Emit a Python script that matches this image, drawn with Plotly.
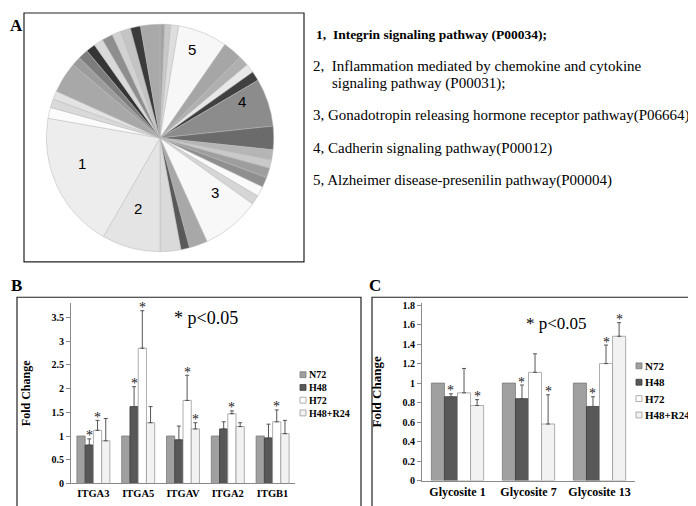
import math
import plotly.graph_objects as go

W, H = 696, 506

# ---------------- Panel A : pie (slice sizes in degrees, clockwise from 12 o'clock)
pie_values = [2.5, 3.0, 4.0, 25.3, 9.9, 5.3, 4.6, 4.9, 24.5, 12.0, 5.3, 4.1, 5.0, 5.2,
              5.1, 4.8, 30.1, 9.4, 4.4, 10.6, 29.8, 70.2, 5.6, 4.4, 4.3, 15.8, 4.7,
              5.2, 4.8, 4.9, 5.5, 4.5, 5.2, 5.2, 9.9]
pie_text = ["", "", "", "5", "", "", "", "", "4", "", "", "", "", "",
            "", "", "3", "", "", "", "2", "1", "", "", "", "", "",
            "", "", "", "", "", "", "", ""]
pie_colors = ["#a3a3a3", "#c8c8c8", "#dedede", "#f7f7f7", "#a6a6a6", "#b0b0b0", "#e8e8e8",
              "#404040", "#8c8c8c", "#6b6b6b", "#b5b5b5", "#c9c9c9", "#9e9e9e", "#8f8f8f",
              "#fafafa", "#d6d6d6", "#f8f8f8", "#a8a8a8", "#595959", "#dadada", "#e4e4e4",
              "#ededed", "#fbfbfb", "#d9d9d9", "#e3e3e3", "#a8a8a8", "#9c9c9c", "#7d7d7d",
              "#353535", "#d9d9d9", "#8e8e8e", "#d2d2d2", "#c4c4c4", "#3b3b3b", "#a9a9a9"]

pathways = [
    "<b>1,\u00a0\u00a0Integrin signaling pathway (P00034);</b>",
    "2,\u00a0\u00a0Inflammation mediated by chemokine and cytokine",
    "signaling pathway (P00031);",
    "3, Gonadotropin releasing hormone receptor pathway(P06664);",
    "4, Cadherin signaling pathway(P00012)",
    "5, Alzheimer disease-presenilin pathway(P00004)",
]

# ---------------- Panel B
genes = ["ITGA3", "ITGA5", "ITGAV", "ITGA2", "ITGB1"]
series = ["N72", "H48", "H72", "H48+R24"]
b_N72 = [1.0, 1.0, 1.0, 1.0, 1.0]
b_H48 = [0.81, 1.62, 0.92, 1.15, 0.96]
b_H72 = [1.12, 2.85, 1.75, 1.47, 1.30]
b_R24 = [0.90, 1.28, 1.15, 1.20, 1.05]
b_H48_err = [0.13, 0.42, 0.29, 0.15, 0.29]
b_H72_err = [0.21, 0.79, 0.53, 0.06, 0.25]
b_R24_err = [0.47, 0.34, 0.13, 0.08, 0.28]
b_H48_sig = [1, 1, 0, 0, 0]
b_H72_sig = [1, 1, 1, 1, 1]
b_R24_sig = [0, 0, 1, 0, 0]
b_ticks = [0, 0.5, 1, 1.5, 2, 2.5, 3, 3.5]
b_ticklabels = ["0", "0.5", "1", "1.5", "2", "2.5", "3", "3.5"]

# ---------------- Panel C
sites = ["Glycosite 1", "Glycosite 7", "Glycosite 13"]
c_N72 = [1.0, 1.0, 1.0]
c_H48 = [0.86, 0.84, 0.76]
c_H72 = [0.90, 1.11, 1.20]
c_R24 = [0.77, 0.58, 1.48]
c_H48_err = [0.03, 0.14, 0.10]
c_H72_err = [0.25, 0.19, 0.19]
c_R24_err = [0.06, 0.30, 0.14]
c_H48_sig = [1, 1, 1]
c_H72_sig = [0, 0, 1]
c_R24_sig = [1, 1, 1]
c_ticks = [0, 0.2, 0.4, 0.6, 0.8, 1.0, 1.2, 1.4, 1.6, 1.8]
c_ticklabels = ["0", "0.2", "0.4", "0.6", "0.8", "1", "1.2", "1.4", "1.6", "1.8"]

fills = {"N72": "#a0a0a0", "H48": "#585858", "H72": "#ffffff", "H48+R24": "#f2f2f2"}
edges = {"N72": "#7a7a7a", "H48": "#3c3c3c", "H72": "#9a9a9a", "H48+R24": "#9a9a9a"}

SERIF = "Liberation Serif"


def px(x):
    return x / W


def py(y):
    return 1 - y / H


fig = go.Figure()
ann = []
shapes = []

# pie
PIE_CX, PIE_CY, PIE_R = 152, 128.5, 116
fig.add_trace(go.Pie(
    values=pie_values, textinfo="none", sort=False, direction="clockwise", rotation=0,
    marker=dict(colors=pie_colors, line=dict(color="#b8b8b8", width=0.5)),
    domain=dict(x=[px(PIE_CX - PIE_R), px(PIE_CX + PIE_R)],
                y=[py(PIE_CY + PIE_R), py(PIE_CY - PIE_R)]),
    showlegend=False, hoverinfo="skip"))
# slice numbers at the mid-angle of their slices
total = sum(pie_values)
cum = 0.0
for v, t in zip(pie_values, pie_text):
    mid = (cum + v / 2) / total * 2 * math.pi
    cum += v
    if t:
        lx = PIE_CX + 0.74 * PIE_R * math.sin(mid)
        ly = PIE_CY - 0.74 * PIE_R * math.cos(mid)
        ann.append(dict(text=t, x=px(lx), y=py(ly), xref="paper", yref="paper",
                        xanchor="center", yanchor="bottom", showarrow=False,
                        font=dict(family="Liberation Sans", size=15, color="black")))

BW = 0.184


def add_panel(cats, vals, errs, sigs, xa, ya):
    for j, name in enumerate(series):
        off = -2 * BW + j * BW
        xs = list(range(len(cats)))
        err = errs[j]
        kw = {}
        if err is not None:
            kw["error_y"] = dict(type="data", array=err, arrayminus=[0] * len(err),
                                 symmetric=False, color="#555555", thickness=1, width=2)
        fig.add_trace(go.Bar(
            x=xs, y=vals[j], name=name, width=BW, offset=off,
            marker=dict(color=fills[name], line=dict(color=edges[name], width=0.8)),
            xaxis=xa, yaxis=ya, showlegend=False, hoverinfo="skip", **kw))
        if sigs[j] is None:
            continue
        for i in range(len(cats)):
            if sigs[j][i]:
                ann.append(dict(text="*", x=i + off + BW / 2, y=vals[j][i] + errs[j][i],
                                xref=xa, yref=ya, xanchor="center", yanchor="middle",
                                yshift=3, showarrow=False,
                                font=dict(family=SERIF, size=14, color="#222222")))


add_panel(genes, [b_N72, b_H48, b_H72, b_R24], [None, b_H48_err, b_H72_err, b_R24_err],
          [None, b_H48_sig, b_H72_sig, b_R24_sig], "x", "y")
add_panel(sites, [c_N72, c_H48, c_H72, c_R24], [None, c_H48_err, c_H72_err, c_R24_err],
          [None, c_H48_sig, c_H72_sig, c_R24_sig], "x2", "y2")

axis_common = dict(showgrid=False, zeroline=False, showline=True, linecolor="#8a8a8a",
                   linewidth=1)

fig.update_layout(
    width=W, height=H, margin=dict(l=0, r=0, t=0, b=0),
    paper_bgcolor="white", plot_bgcolor="rgba(0,0,0,0)", barmode="overlay",
    font=dict(family=SERIF, color="black"), showlegend=False,
    xaxis=dict(domain=[px(63), px(287)], range=[-0.5, len(genes) - 0.5], anchor="y",
               tickvals=list(range(len(genes))), ticktext=genes, ticks="",
               tickfont=dict(family=SERIF, size=10.5, weight="bold", color="black"),
               **axis_common),
    yaxis=dict(domain=[py(481), py(297)], range=[0, 3.8], anchor="x",
               tickvals=b_ticks, ticktext=b_ticklabels, ticks="outside", ticklen=4,
               tickcolor="#8a8a8a",
               tickfont=dict(family=SERIF, size=10, weight="bold", color="black"),
               title=dict(text="Fold Change", standoff=18,
                          font=dict(family=SERIF, size=12, weight="bold", color="black")),
               **axis_common),
    xaxis2=dict(domain=[px(414), px(627)], range=[-0.5, len(sites) - 0.5], anchor="y2",
                tickvals=list(range(len(sites))), ticktext=sites, ticks="",
                tickfont=dict(family=SERIF, size=12, weight="bold", color="black"),
                **axis_common),
    yaxis2=dict(domain=[py(478), py(297)], range=[0, 1.82], anchor="x2",
                tickvals=c_ticks, ticktext=c_ticklabels, ticks="outside", ticklen=4,
                tickcolor="#8a8a8a",
                tickfont=dict(family=SERIF, size=10, weight="bold", color="black"),
                title=dict(text="Fold Change", standoff=17,
                           font=dict(family=SERIF, size=13, weight="bold", color="black")),
                **axis_common),
)

# frames
for (x0, y0, x1, y1) in [(16, 1, 296, 255), (9, 291, 353, 505), (364, 291, 694, 505)]:
    shapes.append(dict(type="rect", xref="paper", yref="paper",
                       x0=px(x0), x1=px(x1), y0=py(y1), y1=py(y0),
                       line=dict(color="#222222", width=1.2)))

# legend B : one multi-line text block, swatches on its rows
LB_X, LB_Y, LB_FS = 292, 389.5, 10
lb_step = LB_FS * 1.3
ann.append(dict(text="<br>".join("<b>" + s + "</b>" for s in series),
                x=px(LB_X + 7), y=py(LB_Y), xref="paper", yref="paper",
                xanchor="left", yanchor="middle", align="left", showarrow=False,
                font=dict(family=SERIF, size=LB_FS, color="black")))
for j, name in enumerate(series):
    yc = LB_Y + (j - 1.5) * lb_step
    shapes.append(dict(type="rect", xref="paper", yref="paper",
                       x0=px(LB_X), x1=px(LB_X + 6), y0=py(yc + 3), y1=py(yc - 3),
                       fillcolor=fills[name], line=dict(color=edges[name], width=0.8)))
# legend C
for j, name in enumerate(series):
    yc = 361 + j * 16.7
    shapes.append(dict(type="rect", xref="paper", yref="paper",
                       x0=px(628), x1=px(634), y0=py(yc + 3), y1=py(yc - 3),
                       fillcolor=fills[name], line=dict(color=edges[name], width=0.8)))
    ann.append(dict(text="<b>" + name + "</b>", x=px(635), y=py(yc),
                    xref="paper", yref="paper", xanchor="left", yanchor="middle",
                    showarrow=False, font=dict(family=SERIF, size=11, color="black")))
fig.update_layout(shapes=shapes)

for txt, x, y in [("A", 8, 14), ("B", 8, 279), ("C", 367, 279)]:
    ann.append(dict(text="<b>" + txt + "</b>", x=px(x), y=py(y), xref="paper", yref="paper",
                    xanchor="center", yanchor="middle", showarrow=False,
                    font=dict(family=SERIF, size=17, color="black")))
for txt, x, y, s in zip(pathways, [306, 303, 322, 303, 303, 303], [23, 55, 73, 106, 139, 172],
                        [13.5, 15, 15, 15, 15, 15]):
    ann.append(dict(text=txt, x=px(x), y=py(y), xref="paper", yref="paper",
                    xanchor="left", yanchor="middle", showarrow=False,
                    font=dict(family=SERIF, size=s, color="black")))
for txt, x, y, s in [("* p<0.05", 198, 312, 18), ("* p<0.05", 548, 318, 17)]:
    ann.append(dict(text=txt, x=px(x), y=py(y), xref="paper", yref="paper",
                    xanchor="center", yanchor="middle", showarrow=False,
                    font=dict(family=SERIF, size=s, color="black")))
fig.update_layout(annotations=ann)

fig.write_html("out.html")
